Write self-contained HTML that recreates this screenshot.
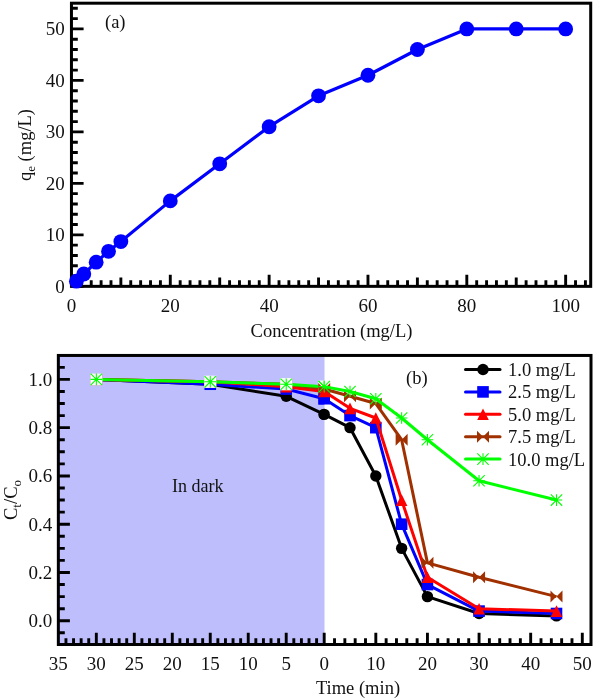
<!DOCTYPE html><html><head><meta charset="utf-8"><style>
html,body{margin:0;padding:0;background:#fff;width:594px;height:700px;overflow:hidden}
svg{display:block;will-change:transform}
text{font-family:"Liberation Serif",serif;fill:#111}
</style></head><body>
<svg width="594" height="700" viewBox="0 0 594 700">
<rect x="0" y="0" width="594" height="700" fill="#fff"/>
<path d="M71.45 286.35H83.60M71.45 276.05H77.80M71.45 265.75H77.80M71.45 255.46H77.80M71.45 245.16H77.80M71.45 234.86H83.60M71.45 224.56H77.80M71.45 214.26H77.80M71.45 203.97H77.80M71.45 193.67H77.80M71.45 183.37H83.60M71.45 173.07H77.80M71.45 162.77H77.80M71.45 152.48H77.80M71.45 142.18H77.80M71.45 131.88H83.60M71.45 121.58H77.80M71.45 111.28H77.80M71.45 100.99H77.80M71.45 90.69H77.80M71.45 80.39H83.60M71.45 70.09H77.80M71.45 59.79H77.80M71.45 49.50H77.80M71.45 39.20H77.80M71.45 28.90H83.60M71.45 18.60H77.80M71.45 8.30H77.80M71.45 286.35V274.75M81.33 286.35V280.35M91.22 286.35V280.35M101.10 286.35V280.35M110.99 286.35V280.35M120.87 286.35V277.55M130.75 286.35V280.35M140.64 286.35V280.35M150.52 286.35V280.35M160.41 286.35V280.35M170.29 286.35V274.75M180.17 286.35V280.35M190.06 286.35V280.35M199.94 286.35V280.35M209.83 286.35V280.35M219.71 286.35V277.55M229.59 286.35V280.35M239.48 286.35V280.35M249.36 286.35V280.35M259.25 286.35V280.35M269.13 286.35V274.75M279.01 286.35V280.35M288.90 286.35V280.35M298.78 286.35V280.35M308.67 286.35V280.35M318.55 286.35V277.55M328.43 286.35V280.35M338.32 286.35V280.35M348.20 286.35V280.35M358.09 286.35V280.35M367.97 286.35V274.75M377.85 286.35V280.35M387.74 286.35V280.35M397.62 286.35V280.35M407.51 286.35V280.35M417.39 286.35V277.55M427.27 286.35V280.35M437.16 286.35V280.35M447.04 286.35V280.35M456.93 286.35V280.35M466.81 286.35V274.75M476.69 286.35V280.35M486.58 286.35V280.35M496.46 286.35V280.35M506.35 286.35V280.35M516.23 286.35V277.55M526.11 286.35V280.35M536.00 286.35V280.35M545.88 286.35V280.35M555.77 286.35V280.35M565.65 286.35V274.75M575.53 286.35V280.35M585.42 286.35V280.35" stroke="#000" stroke-width="2.9" fill="none"/>
<rect x="71.45" y="3.2" width="519.25" height="283.15" fill="none" stroke="#000" stroke-width="3.0"/>
<polyline points="76.39,281.20 83.81,273.99 96.16,262.15 108.52,251.34 120.87,241.55 170.29,200.88 219.71,163.80 269.13,126.73 318.55,95.84 367.97,75.24 417.39,49.50 466.81,28.90 516.23,28.90 565.65,28.90" fill="none" stroke="#0000ff" stroke-width="3.2" stroke-linejoin="round"/>
<circle cx="76.39" cy="281.20" r="7.4" fill="#0000ff"/>
<circle cx="83.81" cy="273.99" r="7.4" fill="#0000ff"/>
<circle cx="96.16" cy="262.15" r="7.4" fill="#0000ff"/>
<circle cx="108.52" cy="251.34" r="7.4" fill="#0000ff"/>
<circle cx="120.87" cy="241.55" r="7.4" fill="#0000ff"/>
<circle cx="170.29" cy="200.88" r="7.4" fill="#0000ff"/>
<circle cx="219.71" cy="163.80" r="7.4" fill="#0000ff"/>
<circle cx="269.13" cy="126.73" r="7.4" fill="#0000ff"/>
<circle cx="318.55" cy="95.84" r="7.4" fill="#0000ff"/>
<circle cx="367.97" cy="75.24" r="7.4" fill="#0000ff"/>
<circle cx="417.39" cy="49.50" r="7.4" fill="#0000ff"/>
<circle cx="466.81" cy="28.90" r="7.4" fill="#0000ff"/>
<circle cx="516.23" cy="28.90" r="7.4" fill="#0000ff"/>
<circle cx="565.65" cy="28.90" r="7.4" fill="#0000ff"/>
<text x="64.65" y="292.85" font-size="19" text-anchor="end">0</text>
<text x="64.65" y="241.36" font-size="19" text-anchor="end">10</text>
<text x="64.65" y="189.87" font-size="19" text-anchor="end">20</text>
<text x="64.65" y="138.38" font-size="19" text-anchor="end">30</text>
<text x="64.65" y="86.89" font-size="19" text-anchor="end">40</text>
<text x="64.65" y="35.40" font-size="19" text-anchor="end">50</text>
<text x="71.45" y="311.50" font-size="19" text-anchor="middle">0</text>
<text x="170.29" y="311.50" font-size="19" text-anchor="middle">20</text>
<text x="269.13" y="311.50" font-size="19" text-anchor="middle">40</text>
<text x="367.97" y="311.50" font-size="19" text-anchor="middle">60</text>
<text x="466.81" y="311.50" font-size="19" text-anchor="middle">80</text>
<text x="565.65" y="311.50" font-size="19" text-anchor="middle">100</text>
<text x="331.50" y="337" font-size="18.5" text-anchor="middle">Concentration (mg/L)</text>
<text transform="translate(31,145) rotate(-90)" font-size="18.5" text-anchor="middle">q<tspan font-size="13" dy="4">e</tspan><tspan dy="-4"> (mg/L)</tspan></text>
<text x="105" y="28" font-size="18.5">(a)</text>
<rect x="58.35" y="355.45" width="266.15" height="289.05" fill="#bebefc"/>
<path d="M58.35 632.82H64.80M58.35 620.75H69.90M58.35 608.68H64.80M58.35 596.62H64.80M58.35 584.55H64.80M58.35 572.48H69.90M58.35 560.41H64.80M58.35 548.35H64.80M58.35 536.28H64.80M58.35 524.21H69.90M58.35 512.14H64.80M58.35 500.07H64.80M58.35 488.01H64.80M58.35 475.94H69.90M58.35 463.87H64.80M58.35 451.80H64.80M58.35 439.74H64.80M58.35 427.67H69.90M58.35 415.60H64.80M58.35 403.53H64.80M58.35 391.47H64.80M58.35 379.40H69.90M58.35 367.33H64.80M316.60 644.50V638.15M309.01 644.50V638.15M301.41 644.50V638.15M293.82 644.50V638.15M286.22 644.50V632.65M278.63 644.50V638.15M271.03 644.50V638.15M263.43 644.50V638.15M255.84 644.50V638.15M248.24 644.50V632.65M240.65 644.50V638.15M233.05 644.50V638.15M225.46 644.50V638.15M217.86 644.50V638.15M210.26 644.50V632.65M202.67 644.50V638.15M195.07 644.50V638.15M187.48 644.50V638.15M179.88 644.50V638.15M172.29 644.50V632.65M164.69 644.50V638.15M157.09 644.50V638.15M149.50 644.50V638.15M141.90 644.50V638.15M134.31 644.50V632.65M126.71 644.50V638.15M119.12 644.50V638.15M111.52 644.50V638.15M103.92 644.50V638.15M96.33 644.50V632.65M88.73 644.50V638.15M81.14 644.50V638.15M73.54 644.50V638.15M65.95 644.50V638.15M324.20 644.50V632.65M334.52 644.50V638.15M344.85 644.50V638.15M355.17 644.50V638.15M365.50 644.50V638.15M375.82 644.50V632.65M386.14 644.50V638.15M396.47 644.50V638.15M406.79 644.50V638.15M417.12 644.50V638.15M427.44 644.50V632.65M437.76 644.50V638.15M448.09 644.50V638.15M458.41 644.50V638.15M468.74 644.50V638.15M479.06 644.50V632.65M489.38 644.50V638.15M499.71 644.50V638.15M510.03 644.50V638.15M520.36 644.50V638.15M530.68 644.50V632.65M541.00 644.50V638.15M551.33 644.50V638.15M561.65 644.50V638.15M571.98 644.50V638.15M582.30 644.50V632.65" stroke="#000" stroke-width="2.9" fill="none"/>
<defs><clipPath id="cd"><rect x="58.35" y="355.45" width="265.85" height="289.05"/></clipPath></defs>
<g clip-path="url(#cd)">
<polyline points="96.33,379.40 210.26,384.23 286.22,396.29 324.20,414.40" fill="none" stroke="#000000" stroke-width="3.0" stroke-linejoin="round"/>
<circle cx="96.33" cy="379.40" r="5.70" fill="#000000"/>
<circle cx="210.26" cy="384.23" r="5.70" fill="#000000"/>
<circle cx="286.22" cy="396.29" r="5.70" fill="#000000"/>
<circle cx="324.20" cy="414.40" r="5.70" fill="#000000"/>
<polyline points="96.33,379.40 210.26,384.23 286.22,389.05 324.20,398.71" fill="none" stroke="#0000ff" stroke-width="3.0" stroke-linejoin="round"/>
<rect x="90.53" y="373.60" width="11.60" height="11.60" fill="#0000ff"/>
<rect x="204.46" y="378.43" width="11.60" height="11.60" fill="#0000ff"/>
<rect x="280.42" y="383.25" width="11.60" height="11.60" fill="#0000ff"/>
<rect x="318.40" y="392.91" width="11.60" height="11.60" fill="#0000ff"/>
<polyline points="96.33,379.40 210.26,381.81 286.22,386.64 324.20,391.47" fill="none" stroke="#ff0000" stroke-width="3.0" stroke-linejoin="round"/>
<path d="M96.33 373.60L102.13 385.20L90.53 385.20Z" fill="#ff0000"/>
<path d="M210.26 376.01L216.06 387.61L204.46 387.61Z" fill="#ff0000"/>
<path d="M286.22 380.84L292.02 392.44L280.42 392.44Z" fill="#ff0000"/>
<path d="M324.20 385.67L330.00 397.27L318.40 397.27Z" fill="#ff0000"/>
<polyline points="96.33,379.40 210.26,381.81 286.22,384.23 324.20,389.05" fill="none" stroke="#a03000" stroke-width="3.0" stroke-linejoin="round"/>
<path d="M90.33 373.40L96.33 379.40L90.33 385.40ZM102.33 373.40L96.33 379.40L102.33 385.40Z" fill="#a03000"/>
<path d="M204.26 375.81L210.26 381.81L204.26 387.81ZM216.26 375.81L210.26 381.81L216.26 387.81Z" fill="#a03000"/>
<path d="M280.22 378.23L286.22 384.23L280.22 390.23ZM292.22 378.23L286.22 384.23L292.22 390.23Z" fill="#a03000"/>
<path d="M318.20 383.05L324.20 389.05L318.20 395.05ZM330.20 383.05L324.20 389.05L330.20 395.05Z" fill="#a03000"/>
<polyline points="96.33,379.40 210.26,381.81 286.22,384.23 324.20,386.64" fill="none" stroke="#00ff00" stroke-width="3.0" stroke-linejoin="round"/>
<rect x="90.23" y="373.30" width="12.2" height="12.2" fill="#fff"/>
<path d="M90.53 379.40H102.13M96.33 373.60V385.20M90.64 373.72L102.01 385.08M90.64 385.08L102.01 373.72" stroke="#00ff00" stroke-width="1.1" fill="none"/><circle cx="96.33" cy="379.40" r="1.3" fill="#00ff00"/>
<rect x="204.16" y="375.71" width="12.2" height="12.2" fill="#fff"/>
<path d="M204.46 381.81H216.06M210.26 376.01V387.61M204.58 376.13L215.95 387.50M204.58 387.50L215.95 376.13" stroke="#00ff00" stroke-width="1.1" fill="none"/><circle cx="210.26" cy="381.81" r="1.3" fill="#00ff00"/>
<rect x="280.12" y="378.13" width="12.2" height="12.2" fill="#fff"/>
<path d="M280.42 384.23H292.02M286.22 378.43V390.03M280.54 378.54L291.91 389.91M280.54 389.91L291.91 378.54" stroke="#00ff00" stroke-width="1.1" fill="none"/><circle cx="286.22" cy="384.23" r="1.3" fill="#00ff00"/>
<rect x="318.10" y="380.54" width="12.2" height="12.2" fill="#fff"/>
<path d="M318.40 386.64H330.00M324.20 380.84V392.44M318.52 380.96L329.88 392.32M318.52 392.32L329.88 380.96" stroke="#00ff00" stroke-width="1.1" fill="none"/><circle cx="324.20" cy="386.64" r="1.3" fill="#00ff00"/>
</g>
<polyline points="324.20,414.40 350.01,427.67 375.82,475.94 401.63,548.35 427.44,596.62 479.06,613.51 556.49,615.92" fill="none" stroke="#000000" stroke-width="3.0" stroke-linejoin="round"/>
<circle cx="324.20" cy="414.40" r="5.70" fill="#000000"/>
<circle cx="350.01" cy="427.67" r="5.70" fill="#000000"/>
<circle cx="375.82" cy="475.94" r="5.70" fill="#000000"/>
<circle cx="401.63" cy="548.35" r="5.70" fill="#000000"/>
<circle cx="427.44" cy="596.62" r="5.70" fill="#000000"/>
<circle cx="479.06" cy="613.51" r="5.70" fill="#000000"/>
<circle cx="556.49" cy="615.92" r="5.70" fill="#000000"/>
<polyline points="324.20,398.71 350.01,415.60 375.82,427.67 401.63,524.21 427.44,584.55 479.06,611.10 556.49,613.51" fill="none" stroke="#0000ff" stroke-width="3.0" stroke-linejoin="round"/>
<rect x="318.40" y="392.91" width="11.60" height="11.60" fill="#0000ff"/>
<rect x="344.21" y="409.80" width="11.60" height="11.60" fill="#0000ff"/>
<rect x="370.02" y="421.87" width="11.60" height="11.60" fill="#0000ff"/>
<rect x="395.83" y="518.41" width="11.60" height="11.60" fill="#0000ff"/>
<rect x="421.64" y="578.75" width="11.60" height="11.60" fill="#0000ff"/>
<rect x="473.26" y="605.30" width="11.60" height="11.60" fill="#0000ff"/>
<rect x="550.69" y="607.71" width="11.60" height="11.60" fill="#0000ff"/>
<polyline points="324.20,391.47 350.01,408.36 375.82,418.02 401.63,500.07 427.44,577.31 479.06,608.68 556.49,611.10" fill="none" stroke="#ff0000" stroke-width="3.0" stroke-linejoin="round"/>
<path d="M324.20 385.67L330.00 397.27L318.40 397.27Z" fill="#ff0000"/>
<path d="M350.01 402.56L355.81 414.16L344.21 414.16Z" fill="#ff0000"/>
<path d="M375.82 412.22L381.62 423.82L370.02 423.82Z" fill="#ff0000"/>
<path d="M401.63 494.27L407.43 505.88L395.83 505.88Z" fill="#ff0000"/>
<path d="M427.44 571.51L433.24 583.11L421.64 583.11Z" fill="#ff0000"/>
<path d="M479.06 602.88L484.86 614.48L473.26 614.48Z" fill="#ff0000"/>
<path d="M556.49 605.30L562.29 616.90L550.69 616.90Z" fill="#ff0000"/>
<polyline points="324.20,389.05 350.01,396.29 375.82,403.53 401.63,439.74 427.44,562.83 479.06,577.31 556.49,596.62" fill="none" stroke="#a03000" stroke-width="3.0" stroke-linejoin="round"/>
<path d="M318.20 383.05L324.20 389.05L318.20 395.05ZM330.20 383.05L324.20 389.05L330.20 395.05Z" fill="#a03000"/>
<path d="M344.01 390.29L350.01 396.29L344.01 402.29ZM356.01 390.29L350.01 396.29L356.01 402.29Z" fill="#a03000"/>
<path d="M369.82 397.53L375.82 403.53L369.82 409.53ZM381.82 397.53L375.82 403.53L381.82 409.53Z" fill="#a03000"/>
<path d="M395.63 433.74L401.63 439.74L395.63 445.74ZM407.63 433.74L401.63 439.74L407.63 445.74Z" fill="#a03000"/>
<path d="M421.44 556.83L427.44 562.83L421.44 568.83ZM433.44 556.83L427.44 562.83L433.44 568.83Z" fill="#a03000"/>
<path d="M473.06 571.31L479.06 577.31L473.06 583.31ZM485.06 571.31L479.06 577.31L485.06 583.31Z" fill="#a03000"/>
<path d="M550.49 590.62L556.49 596.62L550.49 602.62ZM562.49 590.62L556.49 596.62L562.49 602.62Z" fill="#a03000"/>
<polyline points="324.20,386.64 350.01,391.47 375.82,398.71 401.63,418.02 427.44,439.74 479.06,480.77 556.49,500.07" fill="none" stroke="#00ff00" stroke-width="3.0" stroke-linejoin="round"/>
<path d="M318.40 386.64H330.00M324.20 380.84V392.44M318.52 380.96L329.88 392.32M318.52 392.32L329.88 380.96" stroke="#00ff00" stroke-width="1.1" fill="none"/><circle cx="324.20" cy="386.64" r="1.3" fill="#00ff00"/>
<path d="M344.21 391.47H355.81M350.01 385.67V397.27M344.33 385.78L355.69 397.15M344.33 397.15L355.69 385.78" stroke="#00ff00" stroke-width="1.1" fill="none"/><circle cx="350.01" cy="391.47" r="1.3" fill="#00ff00"/>
<path d="M370.02 398.71H381.62M375.82 392.91V404.51M370.14 393.02L381.50 404.39M370.14 404.39L381.50 393.02" stroke="#00ff00" stroke-width="1.1" fill="none"/><circle cx="375.82" cy="398.71" r="1.3" fill="#00ff00"/>
<path d="M395.83 418.02H407.43M401.63 412.22V423.82M395.95 412.33L407.31 423.70M395.95 423.70L407.31 412.33" stroke="#00ff00" stroke-width="1.1" fill="none"/><circle cx="401.63" cy="418.02" r="1.3" fill="#00ff00"/>
<path d="M421.64 439.74H433.24M427.44 433.94V445.54M421.76 434.05L433.12 445.42M421.76 445.42L433.12 434.05" stroke="#00ff00" stroke-width="1.1" fill="none"/><circle cx="427.44" cy="439.74" r="1.3" fill="#00ff00"/>
<path d="M473.26 480.77H484.86M479.06 474.97V486.57M473.38 475.08L484.74 486.45M473.38 486.45L484.74 475.08" stroke="#00ff00" stroke-width="1.1" fill="none"/><circle cx="479.06" cy="480.77" r="1.3" fill="#00ff00"/>
<path d="M550.69 500.07H562.29M556.49 494.27V505.88M550.81 494.39L562.17 505.76M550.81 505.76L562.17 494.39" stroke="#00ff00" stroke-width="1.1" fill="none"/><circle cx="556.49" cy="500.07" r="1.3" fill="#00ff00"/>
<rect x="58.35" y="355.45" width="532.65" height="289.05" fill="none" stroke="#000" stroke-width="3.0"/>
<text x="52.35" y="627.25" font-size="19" text-anchor="end">0.0</text>
<text x="52.35" y="578.98" font-size="19" text-anchor="end">0.2</text>
<text x="52.35" y="530.71" font-size="19" text-anchor="end">0.4</text>
<text x="52.35" y="482.44" font-size="19" text-anchor="end">0.6</text>
<text x="52.35" y="434.17" font-size="19" text-anchor="end">0.8</text>
<text x="52.35" y="385.90" font-size="19" text-anchor="end">1.0</text>
<text x="58.35" y="670" font-size="19" text-anchor="middle">35</text>
<text x="96.33" y="670" font-size="19" text-anchor="middle">30</text>
<text x="134.31" y="670" font-size="19" text-anchor="middle">25</text>
<text x="172.29" y="670" font-size="19" text-anchor="middle">20</text>
<text x="210.26" y="670" font-size="19" text-anchor="middle">15</text>
<text x="248.24" y="670" font-size="19" text-anchor="middle">10</text>
<text x="286.22" y="670" font-size="19" text-anchor="middle">5</text>
<text x="324.20" y="670" font-size="19" text-anchor="middle">0</text>
<text x="375.82" y="670" font-size="19" text-anchor="middle">10</text>
<text x="427.44" y="670" font-size="19" text-anchor="middle">20</text>
<text x="479.06" y="670" font-size="19" text-anchor="middle">30</text>
<text x="530.68" y="670" font-size="19" text-anchor="middle">40</text>
<text x="582.30" y="670" font-size="19" text-anchor="middle">50</text>
<text x="358.00" y="694" font-size="18.5" text-anchor="middle">Time (min)</text>
<text transform="translate(16.5,500) rotate(-90)" font-size="18.5" text-anchor="middle">C<tspan font-size="13" dy="4">t</tspan><tspan dy="-4">/C</tspan><tspan font-size="13" dy="4">o</tspan></text>
<text x="406" y="383.5" font-size="18.5">(b)</text>
<text x="172" y="492" font-size="18">In dark</text>
<path d="M465.5 369.50H500" stroke="#000000" stroke-width="3.0" stroke-linecap="round"/>
<circle cx="483.00" cy="369.50" r="5.70" fill="#000000"/>
<text x="508" y="376.00" font-size="18.5">1.0 mg/L</text>
<path d="M465.5 391.90H500" stroke="#0000ff" stroke-width="3.0" stroke-linecap="round"/>
<rect x="477.20" y="386.10" width="11.60" height="11.60" fill="#0000ff"/>
<text x="508" y="398.40" font-size="18.5">2.5 mg/L</text>
<path d="M465.5 414.30H500" stroke="#ff0000" stroke-width="3.0" stroke-linecap="round"/>
<path d="M483.00 408.50L488.80 420.10L477.20 420.10Z" fill="#ff0000"/>
<text x="508" y="420.80" font-size="18.5">5.0 mg/L</text>
<path d="M465.5 436.70H500" stroke="#a03000" stroke-width="3.0" stroke-linecap="round"/>
<path d="M477.00 430.70L483.00 436.70L477.00 442.70ZM489.00 430.70L483.00 436.70L489.00 442.70Z" fill="#a03000"/>
<text x="508" y="443.20" font-size="18.5">7.5 mg/L</text>
<path d="M465.5 459.10H500" stroke="#00ff00" stroke-width="3.0" stroke-linecap="round"/>
<path d="M477.20 459.10H488.80M483.00 453.30V464.90M477.32 453.42L488.68 464.78M477.32 464.78L488.68 453.42" stroke="#00ff00" stroke-width="1.1" fill="none"/><circle cx="483.00" cy="459.10" r="1.3" fill="#00ff00"/>
<text x="508" y="465.60" font-size="18.5">10.0 mg/L</text>
</svg></body></html>
